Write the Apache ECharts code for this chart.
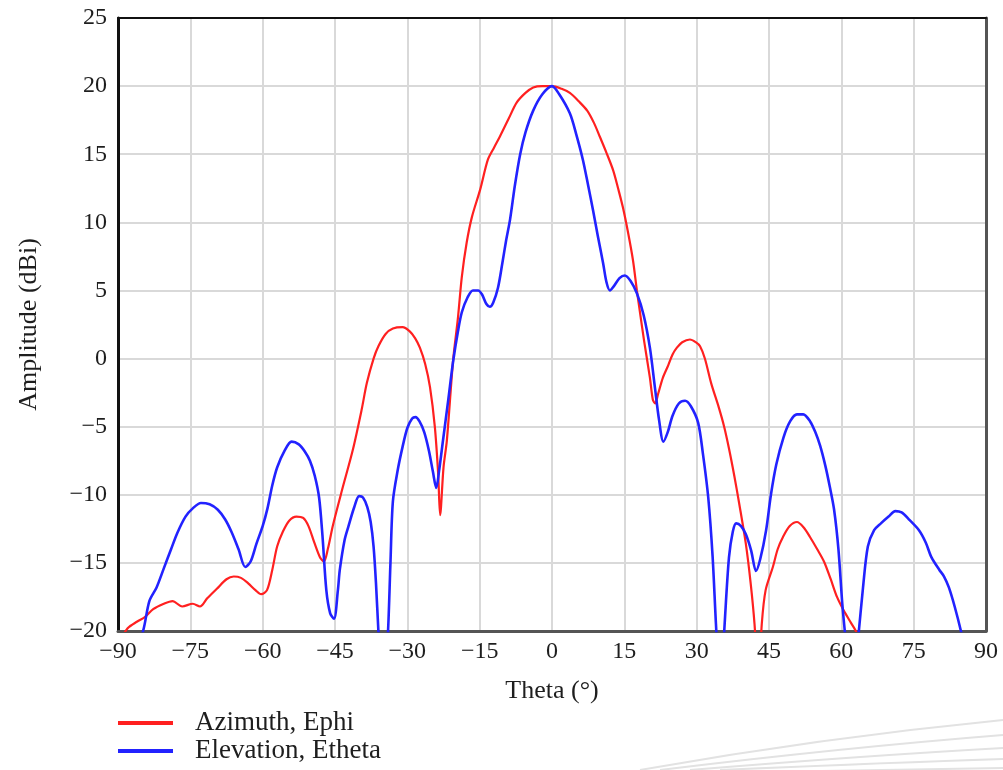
<!DOCTYPE html>
<html>
<head>
<meta charset="utf-8">
<title>Radiation pattern</title>
<script src="https://cdn.jsdelivr.net/npm/echarts@6/dist/echarts.min.js"></script>
<style>
  html, body { margin: 0; padding: 0; background: #fff; }
  #chart { width: 1003px; height: 770px; }
</style>
</head>
<body>
<div id="chart"></div>
<script>
// Angle axis ticks (degrees) and amplitude axis ticks (dBi)
const thetaTicks = [-90, -75, -60, -45, -30, -15, 0, 15, 30, 45, 60, 75, 90];
const ampTicks = [-20, -15, -10, -5, 0, 5, 10, 15, 20, 25];

// Azimuth cut, E-phi component: [theta, amplitude]
const azimuthTheta = [-90, -88, -86, -84.5, -82.7, -80.5, -78.7, -76.7, -74.5, -73, -71.5, -69.5, -67.5, -66, -64.5, -63, -61.5, -60.3, -59.1, -58, -57, -55.8, -54.5, -53, -51.6, -50.5, -49.3, -48.1, -47.3, -46.5, -45.4, -43.5, -41.3, -39.5, -38.4, -37, -36, -34.5, -33, -31, -29.5, -28.4, -27.4, -26.3, -25.3, -24.3, -23.6, -23.2, -22.5, -21.8, -20.5, -19.5, -18.7, -17.7, -16.6, -14.9, -13.3, -12, -10.8, -9, -7.3, -5.5, -3.9, -2, 0, 2, 3.7, 5.5, 7.3, 8.7, 9.9, 11.3, 12.7, 13.7, 14.7, 15.8, 16.8, 17.6, 18.2, 19.1, 20.3, 20.9, 21.4, 22, 23, 24.1, 25, 25.9, 27, 28.6, 29.8, 30.7, 31.7, 33, 34.6, 35.7, 36.7, 37.8, 38.8, 40.2, 41.2, 42, 42.8, 43.5, 44.3, 45.8, 46.8, 47.9, 49.3, 50.8, 52.2, 53.5, 55, 56.4, 57.8, 59.1, 60.5, 62, 63, 64];
const azimuthAmp = [-21, -19.8, -19.3, -19.0, -18.4, -18.0, -17.8, -18.2, -18.0, -18.2, -17.6, -16.9, -16.2, -16.0, -16.1, -16.5, -17.0, -17.3, -17.0, -15.5, -13.8, -12.7, -11.9, -11.6, -11.7, -12.3, -13.5, -14.6, -14.9, -14.0, -12.2, -9.6, -6.7, -3.8, -1.8, 0, 0.9, 1.8, 2.2, 2.3, 2.0, 1.5, 0.8, -0.4, -2.1, -5.0, -8.5, -11.5, -8.0, -6.0, -0.1, 3.0, 6.0, 8.5, 10.4, 12.4, 14.6, 15.5, 16.3, 17.6, 18.8, 19.5, 19.9, 20.0, 20.0, 19.8, 19.5, 18.9, 18.2, 17.3, 16.3, 15.1, 13.8, 12.5, 11.1, 9.2, 7.2, 5.0, 3.5, 1.3, -1.4, -3.0, -3.3, -2.6, -1.4, -0.5, 0.3, 0.8, 1.2, 1.4, 1.2, 0.9, 0, -1.8, -3.6, -5.0, -6.6, -8.6, -10.6, -13.6, -16.5, -19.5, -24, -19.5, -17.0, -15.3, -14.0, -13.1, -12.3, -12.0, -12.4, -13.1, -14.0, -14.9, -16.2, -17.5, -18.5, -19.4, -20.0, -21];

// Elevation cut, E-theta component: [theta, amplitude]
const elevationTheta = [-87, -84.8, -83.5, -82, -80.5, -79, -77.7, -76, -74.5, -72.8, -71, -69.3, -67.8, -66.5, -65, -63.6, -62.5, -61.3, -60, -59, -58, -57, -55.5, -54, -52.5, -51.3, -50.2, -49.2, -48.3, -47.6, -46.8, -46, -45.2, -44.4, -44, -43, -42.2, -41, -40, -39.2, -38.3, -37.6, -37, -36.5, -36, -35, -34, -33.5, -33, -32, -31, -30, -29, -28.3, -27.5, -26.5, -25.5, -24.7, -24, -23.4, -22.6, -21.5, -20.5, -19.5, -18.7, -17.5, -16.4, -15.3, -14.5, -13.6, -12.9, -12.2, -11.2, -10.3, -9.5, -8.7, -7.7, -6.6, -5.5, -3.9, -2, 0, 1.5, 3.7, 5, 6.4, 7.5, 8.5, 9.5, 10.6, 11.3, 12, 12.8, 14, 15.1, 16.3, 17.6, 19, 20.3, 21.3, 22.2, 23.1, 24, 25, 26.3, 27.6, 28.8, 30.3, 31.3, 32.4, 33.3, 34, 34.9, 35.8, 36.7, 37.5, 38.2, 39.2, 40.2, 41.3, 42.3, 43.2, 44.4, 45.4, 46.5, 48, 49.4, 50.8, 52.1, 53.5, 54.6, 55.6, 56.7, 57.6, 58.5, 59.4, 60.2, 61, 62.2, 63.5, 64.5, 65.5, 66.8, 68.2, 69.8, 71.2, 72.5, 74, 76.1, 77.5, 78.7, 80.3, 81.3, 82.3, 83.5, 84.8, 86];
const elevationAmp = [-22, -20, -17.8, -16.8, -15.4, -14.0, -12.8, -11.6, -11.0, -10.6, -10.7, -11.1, -11.8, -12.7, -14.0, -15.3, -14.9, -13.6, -12.3, -11.0, -9.3, -8.0, -6.8, -6.1, -6.3, -6.8, -7.5, -8.6, -10.2, -13.0, -17.0, -18.7, -19.1, -17.0, -15.5, -13.3, -12.3, -10.9, -10.1, -10.2, -10.9, -12.0, -13.8, -16.5, -20, -26, -20, -15, -10.5, -8.2, -6.5, -5.1, -4.4, -4.3, -4.6, -5.4, -6.8, -8.3, -9.5, -8.2, -6.0, -3.0, -0.2, 2.0, 3.4, 4.5, 5.0, 5.0, 4.7, 4.0, 3.8, 4.1, 5.2, 7.0, 8.7, 10.2, 12.7, 15.0, 16.6, 18.2, 19.4, 20.0, 19.4, 18.0, 16.5, 14.6, 12.7, 10.9, 9.0, 7.0, 5.6, 5.0, 5.3, 5.9, 6.1, 5.7, 4.8, 3.2, 0.8, -2.0, -4.5, -6.1, -5.4, -4.2, -3.3, -3.1, -3.5, -4.7, -7.0, -10.2, -14.5, -19.5, -25, -19.5, -14.6, -12.7, -12.1, -12.3, -12.9, -14.1, -15.6, -14.7, -12.6, -10.0, -7.8, -5.8, -4.6, -4.1, -4.1, -4.6, -5.4, -6.4, -7.9, -9.4, -11.1, -14.0, -18.0, -21.0, -25, -20.5, -16.8, -13.8, -12.6, -12.1, -11.6, -11.2, -11.3, -11.8, -12.6, -13.5, -14.6, -15.5, -16.0, -16.8, -18.2, -20, -22];

const seriesNames = ['Azimuth, Ephi', 'Elevation, Etheta'];
const axisNames = { x: 'Theta (°)', y: 'Amplitude (dBi)' };

const pair = (xs, ys) => xs.map((x, i) => [x, ys[i]]);
const fontFamily = "'Liberation Serif', 'Times New Roman', serif";
const textColor = '#1e1e1e';
const minusFmt = v => String(v).replace('-', '\u2212');

const chart = echarts.init(document.getElementById('chart'), null, { renderer: 'canvas' });

// Faint swooping lines in the lower-right corner
const swoosh = [
  { x1: 640, y1: 770, cx: 820, cy: 738, x2: 1003, y2: 720 },
  { x1: 660, y1: 770, cx: 840, cy: 748, x2: 1003, y2: 735 },
  { x1: 690, y1: 770, cx: 860, cy: 756, x2: 1003, y2: 748 },
  { x1: 720, y1: 770, cx: 880, cy: 763, x2: 1003, y2: 759 },
  { x1: 760, y1: 772, cx: 900, cy: 770, x2: 1003, y2: 768 }
];

chart.setOption({
  animation: false,
  backgroundColor: '#ffffff',
  textStyle: { fontFamily: fontFamily },
  grid: { left: 118, right: 17, top: 18, bottom: 139, containLabel: false },
  legend: {
    orient: 'vertical',
    left: 113,
    top: 704,
    itemWidth: 55,
    itemHeight: 4,
    itemGap: 0,
    icon: 'rect',
    textStyle: { fontFamily: fontFamily, fontSize: 27, color: textColor, lineHeight: 28, padding: [0, 0, 0, 17] },
    data: seriesNames
  },
  xAxis: [{
    type: 'value',
    min: thetaTicks[0],
    max: thetaTicks[thetaTicks.length - 1],
    interval: 15,
    name: axisNames.x,
    nameLocation: 'middle',
    nameGap: 47,
    nameTextStyle: { fontFamily: fontFamily, fontSize: 26, color: textColor },
    axisLine: { onZero: false, lineStyle: { color: '#555', width: 3 } },
    axisTick: { show: false },
    axisLabel: { fontFamily: fontFamily, fontSize: 24, color: textColor, margin: 9, formatter: minusFmt },
    splitLine: { show: true, lineStyle: { color: '#d9d9d9', width: 2 } }
  }, {
    type: 'value',
    position: 'top',
    min: thetaTicks[0],
    max: thetaTicks[thetaTicks.length - 1],
    interval: 15,
    axisLine: { onZero: false, lineStyle: { color: '#111', width: 2 } },
    axisTick: { show: false },
    axisLabel: { show: false },
    splitLine: { show: false }
  }],
  yAxis: [{
    type: 'value',
    min: ampTicks[0],
    max: ampTicks[ampTicks.length - 1],
    interval: 5,
    name: axisNames.y,
    nameLocation: 'middle',
    nameGap: 76,
    nameTextStyle: { fontFamily: fontFamily, fontSize: 26, color: textColor },
    axisLine: { onZero: false, lineStyle: { color: '#111', width: 3 } },
    axisTick: { show: false },
    axisLabel: { fontFamily: fontFamily, fontSize: 24, color: textColor, margin: 11, formatter: minusFmt },
    splitLine: { show: true, lineStyle: { color: '#d9d9d9', width: 2 } }
  }, {
    type: 'value',
    position: 'right',
    min: ampTicks[0],
    max: ampTicks[ampTicks.length - 1],
    interval: 5,
    axisLine: { onZero: false, lineStyle: { color: '#555', width: 3 } },
    axisTick: { show: false },
    axisLabel: { show: false },
    splitLine: { show: false }
  }],
  series: [{
    name: seriesNames[0],
    type: 'line',
    data: pair(azimuthTheta, azimuthAmp),
    showSymbol: false,
    smooth: 0.3,
    clip: true,
    color: '#ff2020',
    lineStyle: { color: '#ff2020', width: 2.2 },
    z: 3
  }, {
    name: seriesNames[1],
    type: 'line',
    data: pair(elevationTheta, elevationAmp),
    showSymbol: false,
    smooth: 0.3,
    clip: true,
    color: '#2222ff',
    lineStyle: { color: '#2222ff', width: 2.6 },
    z: 4
  }],
  graphic: swoosh.map(s => ({
    type: 'bezierCurve',
    silent: true,
    z: -1,
    shape: { x1: s.x1, y1: s.y1, x2: s.x2, y2: s.y2, cpx1: s.cx, cpy1: s.cy },
    style: { stroke: '#e2e2e2', lineWidth: 2, fill: null }
  }))
});
</script>
</body>
</html>
